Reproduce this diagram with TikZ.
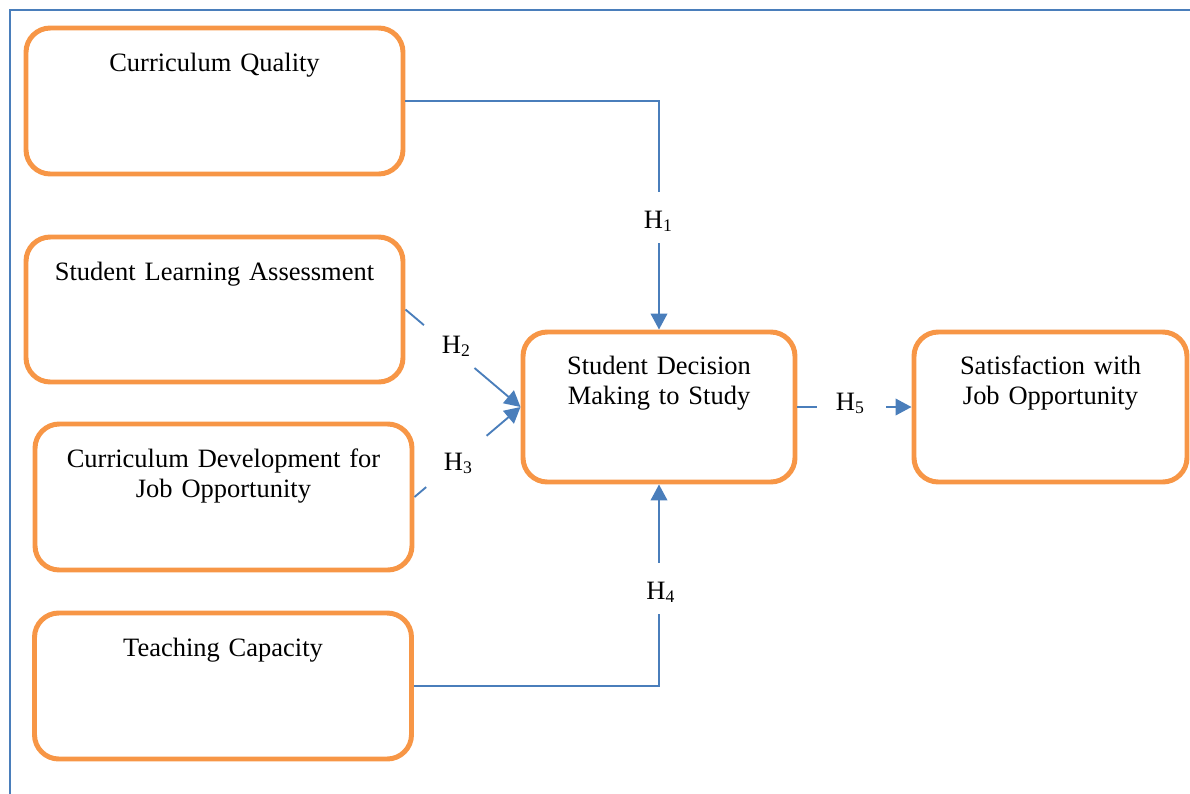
\documentclass[tikz,border=0pt]{standalone}
\usepackage{fontspec}
\setmainfont{Liberation Serif}
\usetikzlibrary{arrows.meta,calc}
\definecolor{boxorange}{HTML}{F79646}
\definecolor{linkblue}{HTML}{4A7EBB}
\begin{document}
\begin{tikzpicture}[x=0.453pt,y=-0.453pt,
  box/.style={draw=boxorange, line width=2.25pt, rounded corners=11pt, inner sep=0pt},
  txt/.style={anchor=base, text width=170pt, align=center, inner sep=0pt, font=\fontsize{12}{13.8}\selectfont},
  hlab/.style={anchor=base, inner sep=0pt, text height=8pt, text depth=0pt, font=\fontsize{12}{14}\selectfont},
  link/.style={draw=linkblue, line width=0.85pt},
  arr/.style={link, -{Triangle[length=7.2pt,width=7.5pt]}}]
\useasboundingbox (0,0) rectangle (1190,793);
% frame
\draw[draw=linkblue, line width=0.9pt] (10.3,795) -- (10.3,10.3) -- (1192,10.3);
% boxes
\node[box, minimum width=377*0.453pt, minimum height=146*0.453pt] (cq)  at (214.5,101) {};
\node[box, minimum width=377*0.453pt, minimum height=145*0.453pt] (sla) at (214.5,309.5) {};
\node[box, minimum width=377*0.453pt, minimum height=146*0.453pt] (cdj) at (223.5,497) {};
\node[box, minimum width=377*0.453pt, minimum height=146*0.453pt] (tc)  at (223,686) {};
\node[box, minimum width=272*0.453pt, minimum height=150*0.453pt] (sdm) at (659,407) {};
\node[box, minimum width=273*0.453pt, minimum height=150*0.453pt] (sjo) at (1050.5,407) {};
% box texts
\node[txt] (cqt)  at (214.5,71) {Curriculum Quality};
\node[txt] (slat) at (214.5,280) {Student Learning Assessment};
\node[txt] (cdjt) at (223.5,467) {Curriculum Development for\\Job Opportunity};
\node[txt] (tct)  at (223,656) {Teaching Capacity};
\node[txt] (sdmt) at (659,374) {Student Decision\\Making to Study};
\node[txt] (sjot) at (1050.5,374) {Satisfaction with\\Job Opportunity};
% hypothesis labels
\node[hlab] (h1) at (658.5,228) {H\textsubscript{1}};
\node[hlab] (h2) at (456.5,353) {H\textsubscript{2}};
\node[hlab] (h3) at (458.5,470) {H\textsubscript{3}};
\node[hlab] (h4) at (661,599) {H\textsubscript{4}};
\node[hlab] (h5) at (850.5,410) {H\textsubscript{5}};
% connectors
\draw[link, shorten >=8pt] (cq.east) -| (h1.north -| sdm.north);
\draw[arr, shorten <=6.8pt] (h1.south -| sdm.north) -- (sdm.north);
\draw[link] (sla.east) -- ($(sla.east)!0.16!(sdm.west)$);
\draw[arr] ($(sla.east)!0.60!(sdm.west)$) -- (sdm.west);
\draw[link] (cdj.east) -- ($(cdj.east)!0.11!(sdm.west)$);
\draw[arr] ($(cdj.east)!0.68!(sdm.west)$) -- (sdm.west);
\draw[link, shorten >=6.8pt] (tc.east) -| (h4.south -| sdm.south);
\draw[arr, shorten <=8.3pt] (h4.north -| sdm.south) -- (sdm.south);
\draw[link, shorten >=8.6pt] (sdm.east) -- (sdm.east -| h5.west);
\draw[arr, shorten <=9.5pt] (sdm.east -| h5.east) -- (sjo.west);
\end{tikzpicture}
\end{document}
